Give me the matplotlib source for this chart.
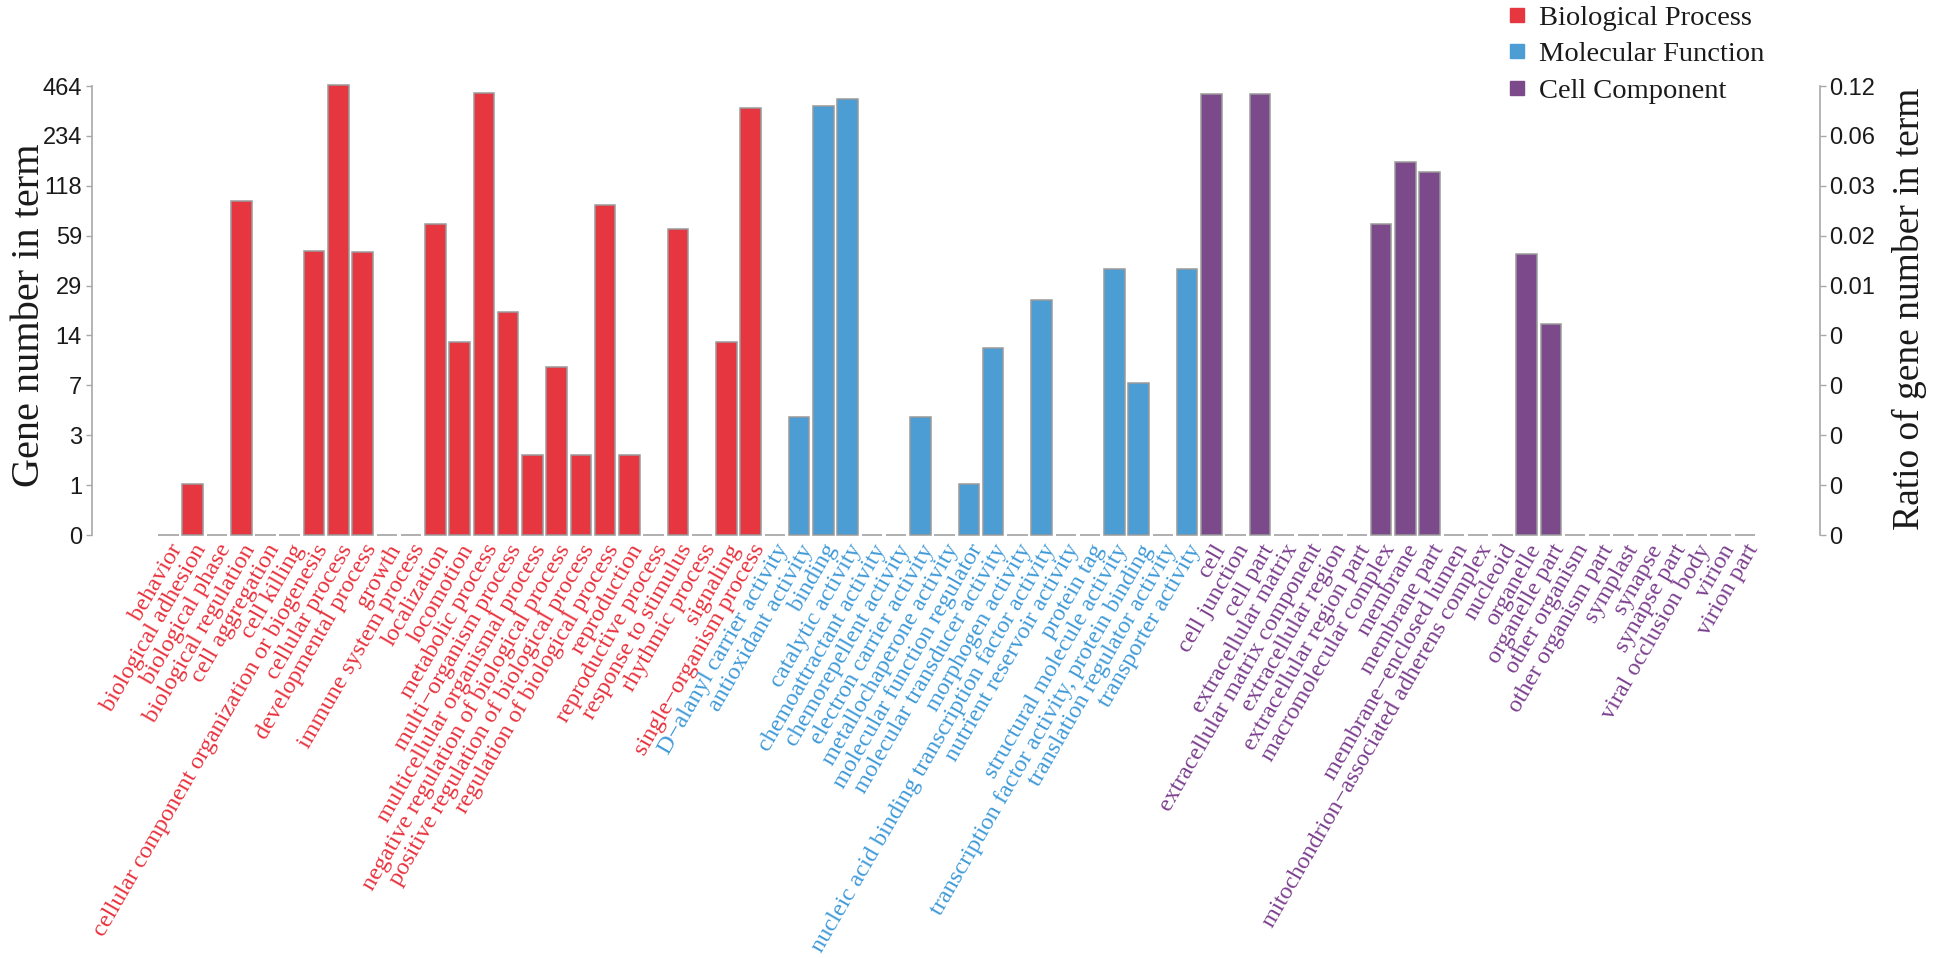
import numpy as np
import matplotlib
matplotlib.use("Agg")
import matplotlib.pyplot as plt
from matplotlib.lines import Line2D

# ---------------- data ----------------
bp_terms = ["behavior", "biological adhesion", "biological phase", "biological regulation",
            "cell aggregation", "cell killing", "cellular component organization or biogenesis",
            "cellular process", "developmental process", "growth", "immune system process",
            "localization", "locomotion", "metabolic process", "multi\u2212organism process",
            "multicellular organismal process", "negative regulation of biological process",
            "positive regulation of biological process", "regulation of biological process",
            "reproduction", "reproductive process", "response to stimulus", "rhythmic process",
            "signaling", "single\u2212organism process"]
bp_counts = [0, 1, 0, 96, 0, 0, 48, 468, 47, 0, 0, 69, 13, 422, 20, 2, 9, 2, 90, 2, 0, 65, 0, 13, 342]

mf_terms = ["D\u2212alanyl carrier activity", "antioxidant activity", "binding", "catalytic activity",
            "chemoattractant activity", "chemorepellent activity", "electron carrier activity",
            "metallochaperone activity", "molecular function regulator", "molecular transducer activity",
            "morphogen activity", "nucleic acid binding transcription factor activity",
            "nutrient reservoir activity", "protein tag", "structural molecule activity",
            "transcription factor activity, protein binding", "translation regulator activity",
            "transporter activity"]
mf_counts = [0, 4, 353, 387, 0, 0, 4, 0, 1, 12, 0, 24, 0, 0, 37, 7, 0, 37]

cc_terms = ["cell", "cell junction", "cell part", "extracellular matrix",
            "extracellular matrix component", "extracellular region", "extracellular region part",
            "macromolecular complex", "membrane", "membrane part", "membrane\u2212enclosed lumen",
            "mitochondrion\u2212associated adherens complex", "nucleoid", "organelle", "organelle part",
            "other organism", "other organism part", "symplast", "synapse", "synapse part",
            "viral occlusion body", "virion", "virion part"]
cc_counts = [416, 0, 416, 0, 0, 0, 0, 69, 164, 143, 0, 0, 0, 46, 17, 0, 0, 0, 0, 0, 0, 0, 0]

groups = ["Biological Process", "Molecular Function", "Cell Component"]
left_tick_labels = ["0", "1", "3", "7", "14", "29", "59", "118", "234", "464"]
right_tick_labels = ["0", "0", "0", "0", "0", "0.01", "0.02", "0.03", "0.06", "0.12"]
y_max = 464

# ---------------- style ----------------
colors = {"Biological Process": "#E63741", "Molecular Function": "#4B9DD4", "Cell Component": "#7C4A8B"}
text_colors = {"Biological Process": "#E8323E", "Molecular Function": "#3F9AD8", "Cell Component": "#7B3F8E"}
serif = ["Liberation Serif", "DejaVu Serif"]
sans = ["Liberation Sans", "DejaVu Sans"]
spine_color = "#A8A8A8"

terms = bp_terms + mf_terms + cc_terms
counts = bp_counts + mf_counts + cc_counts
grp = ([groups[0]] * len(bp_terms) + [groups[1]] * len(mf_terms) + [groups[2]] * len(cc_terms))
x = np.arange(len(terms))

fwd = lambda v: np.log2(np.maximum(v, 0) + 1.0)
inv = lambda v: np.power(2.0, v) - 1.0

fig = plt.figure(figsize=(19.46, 9.58), dpi=100)
ax = fig.add_axes([0.0471, 0.4415, 0.8881, 0.4687])
ax.set_yscale("function", functions=(fwd, inv))

bars = ax.bar(x, counts, width=0.85, color=[colors[g] for g in grp],
              edgecolor="#9A9A9A", linewidth=1.1, zorder=2)
for b in bars:
    b.set_clip_on(False)

step = np.log2(y_max + 1) / (len(left_tick_labels) - 1)
tick_vals = inv(step * np.arange(len(left_tick_labels)))
ax.set_ylim(0, y_max)
ax.set_xlim(-3.17, len(terms) - 1 + 3.09)
ax.set_yticks(tick_vals)
ax.set_yticklabels(left_tick_labels, fontsize=17, family=sans, color="#1a1a1a")
ax.yaxis.set_minor_locator(matplotlib.ticker.NullLocator())

ax.set_xticks(x)
ax.set_xticklabels(terms, rotation=60, ha="right", va="top", rotation_mode="anchor",
                   fontsize=17.5, family=serif)
for lab, g in zip(ax.get_xticklabels(), grp):
    lab.set_color(text_colors[g])
ax.tick_params(axis="x", length=0, pad=4)
ax.tick_params(axis="y", length=4, width=1, color=spine_color, pad=3)

for s in ["top", "bottom", "right"]:
    ax.spines[s].set_visible(False)
ax.spines["left"].set_color(spine_color)
ax.spines["left"].set_linewidth(1.2)

ax.set_ylabel("Gene number in term", fontsize=29, family=serif, color="#1a1a1a")
ax.yaxis.set_label_coords(-0.036, 0.49)
ax.yaxis.label.set_verticalalignment("center")

ax2 = ax.twinx()
ax2.set_yscale("function", functions=(fwd, inv))
ax2.set_ylim(0, y_max)
ax2.set_yticks(tick_vals)
ax2.set_yticklabels(right_tick_labels, fontsize=17, family=sans, color="#1a1a1a")
ax2.yaxis.set_minor_locator(matplotlib.ticker.NullLocator())
ax2.tick_params(axis="y", length=4, width=1, color=spine_color, pad=3)
for s in ["top", "bottom", "left"]:
    ax2.spines[s].set_visible(False)
ax2.spines["right"].set_color(spine_color)
ax2.spines["right"].set_linewidth(1.2)
ax2.set_ylabel("Ratio of gene number in term", fontsize=27, family=serif, color="#1a1a1a")
ax2.yaxis.set_label_coords(1.052, 0.505)
ax2.yaxis.label.set_verticalalignment("center")

handles = [Line2D([], [], marker="s", linestyle="none", markersize=9.5,
                  markerfacecolor=colors[g], markeredgecolor=colors[g]) for g in groups]
leg = fig.legend(handles, groups, loc="upper left", bbox_to_anchor=(0.7752, 0.995),
                 frameon=False, handlelength=0.6, handletextpad=0.47, labelspacing=0.37,
                 borderpad=0, borderaxespad=0, prop={"family": serif, "size": 20.5})
for t in leg.get_texts():
    t.set_color("#1a1a1a")

fig.savefig("out.png", dpi=100)
